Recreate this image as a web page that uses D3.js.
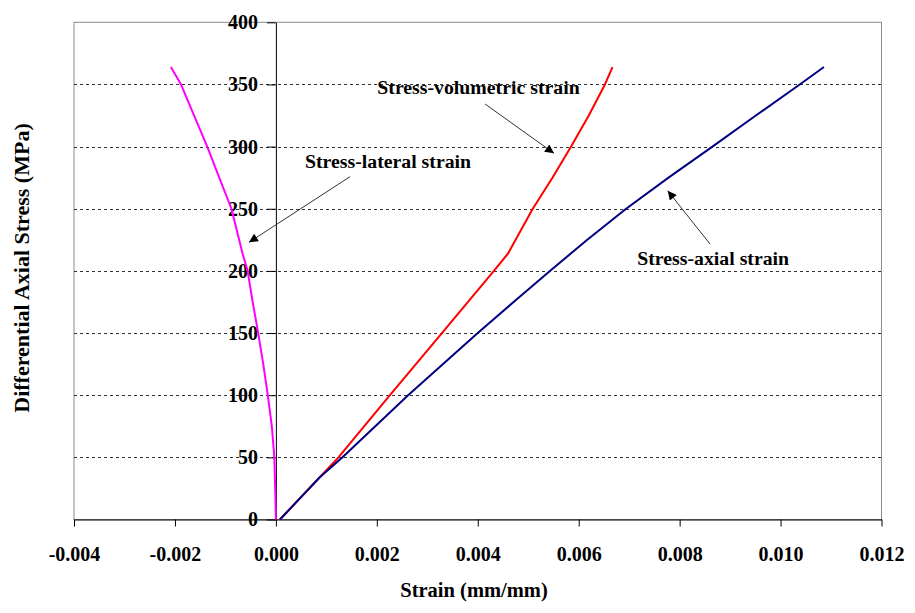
<!DOCTYPE html>
<html>
<head>
<meta charset="utf-8">
<script src="https://cdn.jsdelivr.net/npm/d3@7/dist/d3.min.js"></script>
<style>
  html, body { margin: 0; padding: 0; background: #fff; }
  svg { display: block; }
  text { font-family: "Liberation Serif", "Times New Roman", serif; font-weight: bold; fill: #000; }
</style>
</head>
<body>
<svg id="chart" width="915" height="613"></svg>
<script>
// ---------- data ----------
const xTickValues = [-0.004, -0.002, 0.000, 0.002, 0.004, 0.006, 0.008, 0.010, 0.012];
const xTickLabels = ["-0.004", "-0.002", "0.000", "0.002", "0.004", "0.006", "0.008", "0.010", "0.012"];
const yTickValues = [0, 50, 100, 150, 200, 250, 300, 350, 400];
const yTickLabels = ["0", "50", "100", "150", "200", "250", "300", "350", "400"];

// Stress-lateral strain (magenta)
const lateralStrain = [0.00000, -0.00001, -0.00003, -0.00008, -0.00016, -0.00025, -0.00035, -0.00046, -0.00056, -0.00066, -0.00088, -0.00118, -0.00136, -0.00162, -0.00188, -0.00208];
const lateralStress = [0, 20, 50, 75, 100, 125, 150, 175, 200, 214, 250, 281, 300, 325, 350, 364];

// Stress-volumetric strain (red)
const volStrain = [0.00008, 0.00087, 0.00124, 0.00226, 0.00329, 0.00432, 0.00460, 0.00509, 0.00548, 0.00585, 0.00620, 0.00652, 0.00667];
const volStress = [0, 34, 50, 100, 150, 200, 214, 250, 275, 300, 325, 350, 364];

// Stress-axial strain (navy)
const axialStrain = [0.00008, 0.00087, 0.00132, 0.00262, 0.00400, 0.00471, 0.00543, 0.00617, 0.00694, 0.00778, 0.00865, 0.00951, 0.01038, 0.01086];
const axialStress = [0, 34, 50, 100, 150, 175, 200, 225, 250, 275, 300, 325, 350, 364];

// annotations (data coordinates)
const annotationTexts = ["Stress-volumetric strain", "Stress-lateral strain", "Stress-axial strain"];
const annotationTextX = [0.00201, 0.000577, 0.007161];
const annotationTextY = [342.3, 282.5, 204.7];
const arrowFromX = [0.004144, 0.001469, 0.008603];
const arrowFromY = [334.3, 275.8, 221.6];
const arrowToX = [0.005511, -0.000533, 0.007764];
const arrowToY = [294.6, 223.0, 264.5];

const xTitle = "Strain (mm/mm)";
const yTitle = "Differential Axial Stress (MPa)";

// ---------- chart ----------
const svg = d3.select("#chart");
const plotLeft = 74, plotRight = 881.5, plotTop = 22.3, plotBottom = 519.5;

const x = d3.scaleLinear().domain([-0.004, 0.012]).range([plotLeft, plotRight]);
const y = d3.scaleLinear().domain([0, 400]).range([plotBottom, plotTop]);

// arrow marker
svg.append("defs").append("marker")
  .attr("id", "arrow")
  .attr("viewBox", "0 0 10 10")
  .attr("refX", 10).attr("refY", 5)
  .attr("markerWidth", 11).attr("markerHeight", 9)
  .attr("markerUnits", "userSpaceOnUse")
  .attr("orient", "auto")
  .append("path").attr("d", "M0,0 L10,5 L0,10 Z").attr("fill", "#000");

// plot frame (gray)
svg.append("rect")
  .attr("x", plotLeft).attr("y", plotTop)
  .attr("width", plotRight - plotLeft).attr("height", plotBottom - plotTop)
  .attr("fill", "none").attr("stroke", "#8c8c8c").attr("stroke-width", 1);

// gridlines
svg.append("g").selectAll("line")
  .data(yTickValues.filter(v => v > 0 && v < 400))
  .join("line")
  .attr("x1", plotLeft).attr("x2", plotRight)
  .attr("y1", d => Math.round(y(d)) + 0.5).attr("y2", d => Math.round(y(d)) + 0.5)
  .attr("stroke", "#333").attr("stroke-width", 1)
  .attr("stroke-dasharray", "3,3");

// x axis
const xAxis = d3.axisBottom(x)
  .tickValues(xTickValues)
  .tickFormat((d, i) => xTickLabels[i])
  .tickSize(7).tickSizeOuter(0).tickPadding(20);
const gx = svg.append("g").attr("transform", `translate(0,${plotBottom})`).call(xAxis);
gx.select(".domain").attr("stroke", "#000");
gx.selectAll(".tick line").attr("stroke", "#000");
gx.selectAll(".tick text").attr("font-size", 20).attr("font-family", "Liberation Serif").attr("font-weight", "bold").attr("fill", "#000");

// y axis at x = 0
const yAxis = d3.axisLeft(y)
  .tickValues(yTickValues)
  .tickFormat((d, i) => yTickLabels[i])
  .tickSize(9).tickSizeOuter(0).tickPadding(9);
const gy = svg.append("g").attr("transform", `translate(${x(0)},0)`).call(yAxis);
gy.select(".domain").attr("stroke", "#000");
gy.selectAll(".tick line").attr("stroke", "#000");
gy.selectAll(".tick text").attr("font-size", 20).attr("font-family", "Liberation Serif").attr("font-weight", "bold").attr("fill", "#000");

// series
const line = d3.line().x(d => x(d[0])).y(d => y(d[1]));
const series = [
  { sx: lateralStrain, sy: lateralStress, color: "#ff00ff" },
  { sx: volStrain, sy: volStress, color: "#ff0000" },
  { sx: axialStrain, sy: axialStress, color: "#000080" }
];
series.forEach(s => {
  svg.append("path")
    .datum(s.sx.map((v, i) => [v, s.sy[i]]))
    .attr("d", line)
    .attr("fill", "none")
    .attr("stroke", s.color)
    .attr("stroke-width", 2)
    .attr("stroke-linejoin", "round");
});

// annotations
annotationTexts.forEach((t, i) => {
  svg.append("line")
    .attr("x1", x(arrowFromX[i])).attr("y1", y(arrowFromY[i]))
    .attr("x2", x(arrowToX[i])).attr("y2", y(arrowToY[i]))
    .attr("stroke", "#333").attr("stroke-width", 1)
    .attr("marker-end", "url(#arrow)");
  svg.append("text")
    .attr("x", x(annotationTextX[i])).attr("y", y(annotationTextY[i]))
    .attr("font-size", 19.8)
    .text(t);
});

// axis titles
svg.append("text")
  .attr("x", 474).attr("y", 597)
  .attr("text-anchor", "middle").attr("font-size", 20.5)
  .text(xTitle);
svg.append("text")
  .attr("transform", `translate(29,268) rotate(-90)`)
  .attr("text-anchor", "middle").attr("font-size", 22)
  .text(yTitle);
</script>
</body>
</html>
